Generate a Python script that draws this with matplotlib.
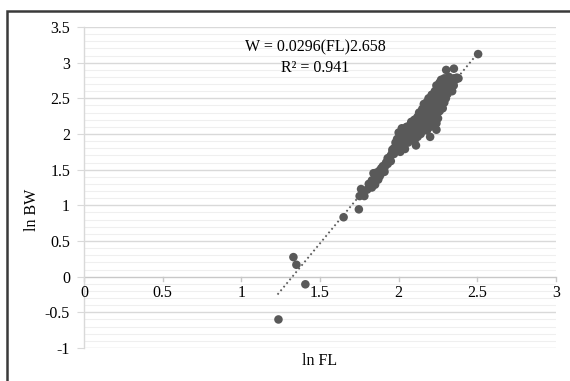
import matplotlib
matplotlib.use("Agg")
import matplotlib.pyplot as plt
from matplotlib.patches import Rectangle
import numpy as np

plt.rcParams['font.family'] = ['Liberation Serif', 'DejaVu Serif']

# Outlying / sparse points (ln FL, ln BW)
sparse_x = [1.236, 1.331, 1.350, 1.407, 1.650, 1.747, 1.761, 1.752, 1.782, 2.505, 2.302, 2.351]
sparse_y = [-0.60, 0.274, 0.167, -0.107, 0.833, 0.944, 1.228, 1.13, 1.13, 3.12, 2.898, 2.916]

# Dense cluster points (ln FL, ln BW)
cluster = [
    (1.80,1.22),(1.81,1.30),(1.82,1.27),(1.83,1.35),(1.83,1.25),(1.84,1.32),(1.85,1.42),(1.85,1.29),
    (1.86,1.38),(1.86,1.46),(1.87,1.36),(1.87,1.44),(1.88,1.41),(1.88,1.49),(1.89,1.45),(1.89,1.52),
    (1.90,1.48),(1.90,1.55),(1.91,1.53),(1.92,1.60),(1.93,1.66),(1.93,1.58),(1.94,1.63),(1.95,1.70),
    (1.95,1.62),(1.96,1.78),(1.96,1.74),(1.97,1.80),(1.98,1.76),(1.98,1.88),(1.99,1.83),(1.99,1.93),
    (2.00,1.90),(2.00,2.02),(2.01,1.97),(2.01,1.75),(2.02,2.08),(2.02,1.92),(2.03,1.82),(2.03,2.00),
    (2.04,2.05),(2.04,1.79),(2.05,1.95),(2.05,2.10),(2.06,2.03),(2.06,1.88),(2.07,2.12),(2.07,1.98),
    (2.08,2.06),(2.08,2.17),(2.09,2.01),(2.09,2.14),(2.10,2.20),(2.10,2.08),(2.10,1.90),(2.11,1.84),
    (2.11,2.16),(2.11,2.03),(2.12,2.24),(2.12,2.10),(2.12,1.96),(2.13,2.19),(2.13,2.06),(2.14,2.28),
    (2.14,2.13),(2.14,2.00),(2.15,2.22),(2.15,2.35),(2.15,2.08),(2.16,2.17),(2.16,2.30),(2.16,2.42),
    (2.17,2.25),(2.17,2.12),(2.17,2.38),(2.18,2.20),(2.18,2.33),(2.18,2.05),(2.18,2.45),(2.19,2.28),
    (2.19,2.15),(2.19,2.40),(2.20,2.22),(2.20,2.35),(2.20,2.48),(2.20,2.10),(2.20,1.96),(2.21,2.30),
    (2.21,2.43),(2.21,2.18),(2.21,2.55),(2.22,2.25),(2.22,2.38),(2.22,2.50),(2.22,2.12),(2.23,2.33),
    (2.23,2.46),(2.23,2.60),(2.23,2.20),(2.24,2.42),(2.24,2.28),(2.24,2.55),(2.24,2.68),(2.24,2.06),
    (2.25,2.36),(2.25,2.50),(2.25,2.63),(2.25,2.22),(2.26,2.45),(2.26,2.58),(2.26,2.72),(2.26,2.32),
    (2.27,2.40),(2.27,2.53),(2.27,2.66),(2.27,2.76),(2.28,2.48),(2.28,2.62),(2.28,2.72),(2.28,2.36),
    (2.29,2.55),(2.29,2.68),(2.29,2.78),(2.29,2.44),(2.30,2.60),(2.30,2.72),(2.30,2.50),(2.31,2.66),
    (2.31,2.78),(2.31,2.56),(2.32,2.70),(2.32,2.62),(2.32,2.80),(2.33,2.66),(2.33,2.75),(2.34,2.72),
    (2.34,2.60),(2.35,2.78),(2.35,2.68),(2.36,2.76),(2.37,2.79),(2.38,2.78),
    (1.84,1.45),(1.91,1.47),(1.97,1.72),(2.03,1.87),(2.08,1.93),(2.13,2.30),(2.19,2.50),(2.24,2.15),
]
cluster_x = [p[0] for p in cluster]
cluster_y = [p[1] for p in cluster]

# Trendline parameters: W = a * FL^b
coef_a = 0.0296
coef_b = 2.658
trend_x = [1.23, 2.505]

x_ticks = [0, 0.5, 1, 1.5, 2, 2.5, 3]
x_ticklabels = ['0', '0.5', '1', '1.5', '2', '2.5', '3']
y_ticks = [-1, -0.5, 0, 0.5, 1, 1.5, 2, 2.5, 3, 3.5]
y_ticklabels = ['-1', '-0.5', '0', '0.5', '1', '1.5', '2', '2.5', '3', '3.5']

fig = plt.figure(figsize=(5.70, 3.81), dpi=100)
fig.patch.set_facecolor('white')
ax = fig.add_axes([84/570, 1-348/381, (556-84)/570, (348-27)/381])

# outer frame
fig.patches.append(Rectangle((7/570, -0.1), 1.2, 1-11/381+0.1, transform=fig.transFigure,
                             fill=False, edgecolor='#3a3a3a', linewidth=1.8, zorder=10))

ax.set_xlim(0, 3)
ax.set_ylim(-1, 3.5)

# gridlines
for v in np.arange(-1, 3.5001, 0.1):
    if abs(v*2 - round(v*2)) < 1e-6:
        continue
    ax.axhline(v, color='#efefef', linewidth=0.8, zorder=0)
for v in y_ticks:
    if v == 0:
        continue
    ax.axhline(v, color='#d9d9d9', linewidth=1.0, zorder=0.5)

for s in ['top', 'right', 'bottom']:
    ax.spines[s].set_visible(False)
ax.spines['left'].set_color('#d9d9d9')
ax.spines['left'].set_linewidth(1.0)

# x axis at y=0
ax.axhline(0, color='#c8c8c8', linewidth=1.0, zorder=1)
for xv, lab in zip(x_ticks, x_ticklabels):
    ax.plot([xv, xv], [0, -0.06], color='#c8c8c8', linewidth=1.0, zorder=1, clip_on=False)
    ax.text(xv, -0.12, lab, ha='center', va='top', fontsize=11.5)

ax.set_xticks([])
ax.set_yticks(y_ticks)
ax.set_yticklabels(y_ticklabels, fontsize=11.5)
ax.tick_params(axis='y', length=5, color='#d9d9d9', pad=5)

# data
ax.scatter(cluster_x, cluster_y, s=38, color='#595959', edgecolors='none', zorder=3)
ax.scatter(sparse_x, sparse_y, s=38, color='#595959', edgecolors='none', zorder=3)

tx = np.array(trend_x)
ty = np.log(coef_a) + coef_b * tx
ax.plot(tx, ty, linestyle=(0, (1, 1.6)), color='#595959', linewidth=1.3, zorder=2)

ax.text(1.47, 3.22, 'W = 0.0296(FL)2.658', ha='center', va='center', fontsize=11.5)
ax.text(1.47, 2.93, 'R² = 0.941', ha='center', va='center', fontsize=11.5)

fig.text(32/570, 1-210/381, 'ln BW', rotation=90, ha='center', va='center', fontsize=11.5)
fig.text(320/570, 1-361/381, 'ln FL', ha='center', va='center', fontsize=11.5)

fig.savefig('out.png', dpi=100)
